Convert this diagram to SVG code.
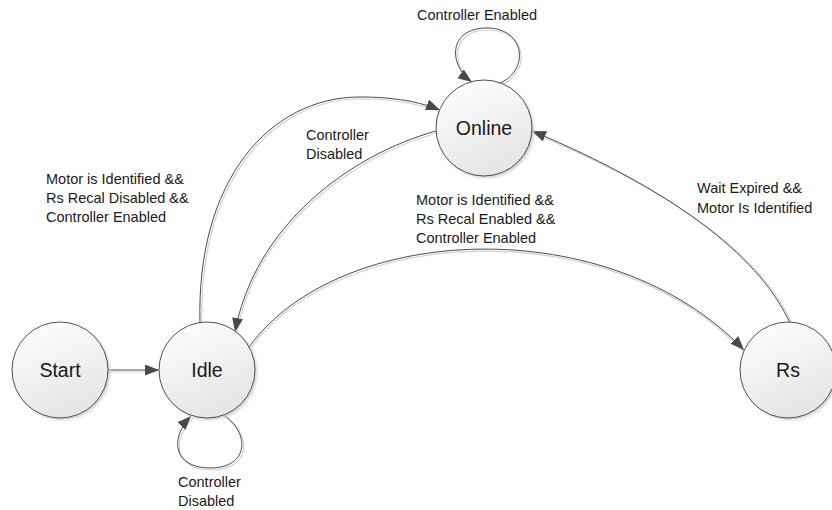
<svg xmlns="http://www.w3.org/2000/svg" width="832" height="510" viewBox="0 0 832 510">
<style>
.node circle.body{fill:url(#g);stroke:#505050;stroke-width:1}
.node circle.sh{fill:#cfcfcf;filter:url(#blur)}
.nl{font-family:"Liberation Sans",Arial,sans-serif;font-size:19.5px;fill:#1a1a1a;text-anchor:middle}
.el{font-family:"Liberation Sans",Arial,sans-serif;font-size:14.5px;fill:#1a1a1a}
.c{fill:none;stroke:#4a4a4a;stroke-width:1}
.s{fill:none;stroke:#d0d0d0;stroke-width:1.2}
</style>
<defs>
<linearGradient id="g" x1="0" y1="0" x2="0.4" y2="1">
<stop offset="0" stop-color="#ffffff"/>
<stop offset="1" stop-color="#e6e6e6"/>
</linearGradient>
<filter id="blur" x="-20%" y="-20%" width="140%" height="140%"><feGaussianBlur stdDeviation="1.5"/></filter>
<marker id="a" markerUnits="userSpaceOnUse" markerWidth="15" markerHeight="11" refX="14" refY="5.5" orient="auto">
<path d="M0,0 L14,5.5 L0,11 z" fill="#4a4a4a"/>
</marker>
</defs>

<g id="connectors">
<g id="e-start-idle">
<path class="s" d="M108,372 L157,372"/>
<path class="c" d="M108,370 L159,370" marker-end="url(#a)"/>
</g>
<g id="e-idle-self">
<path class="s" d="M225,416 C252,434 252,470 211,470 C176,470 170,442 193,418"/>
<path class="c" d="M223,415 C250,432 250,468 210,468 C175,468 168,440 191,416" marker-end="url(#a)"/>
</g>
<g id="e-online-self">
<path class="s" d="M501,85 C532,72 527,30 488,30 C450,30 450,67 474,84"/>
<path class="c" d="M500,83 C530,70 525,28 487,28 C448,28 448,65 472,82" marker-end="url(#a)"/>
</g>
<g id="e-idle-online">
<path class="s" d="M202,323 C198,182 272,99 360,99 C395,99 420,104 440,112"/>
<path class="c" d="M200,323 C196,180 270,97 360,97 C395,97 420,102 440,110" marker-end="url(#a)"/>
</g>
<g id="e-online-idle">
<path class="s" d="M437,133 C351,157 257,227 237,332"/>
<path class="c" d="M436,131 C350,155 255,225 235,332" marker-end="url(#a)"/>
</g>
<g id="e-idle-rs">
<path class="s" d="M250,349 C341,224 611,212 744,352"/>
<path class="c" d="M249,347 C340,222 610,210 744,350" marker-end="url(#a)"/>
</g>
<g id="e-rs-online">
<path class="s" d="M792,323 C764,262 687,197 533,133"/>
<path class="c" d="M790,323 C762,262 685,195 532,131" marker-end="url(#a)"/>
</g>
</g>

<g id="labels">
<text class="el" x="417" y="20">Controller Enabled</text>
<text class="el" x="306" y="140">Controller</text>
<text class="el" x="306" y="159">Disabled</text>
<text class="el" x="46" y="184">Motor is Identified &amp;&amp;</text>
<text class="el" x="46" y="203">Rs Recal Disabled &amp;&amp;</text>
<text class="el" x="46" y="222">Controller Enabled</text>
<text class="el" x="416" y="205">Motor is Identified &amp;&amp;</text>
<text class="el" x="416" y="224">Rs Recal Enabled &amp;&amp;</text>
<text class="el" x="416" y="243">Controller Enabled</text>
<text class="el" x="697" y="193">Wait Expired &amp;&amp;</text>
<text class="el" x="697" y="213">Motor Is Identified</text>
<text class="el" x="178" y="487">Controller</text>
<text class="el" x="178" y="506">Disabled</text>
</g>

<g id="start" class="node">
<circle class="sh" cx="62" cy="372" r="48"/>
<circle class="body" cx="60" cy="370" r="48"/>
<text class="nl" x="60" y="377">Start</text>
</g>
<g id="idle" class="node">
<circle class="sh" cx="209" cy="372" r="48"/>
<circle class="body" cx="207" cy="370" r="48"/>
<text class="nl" x="207" y="377">Idle</text>
</g>
<g id="online" class="node">
<circle class="sh" cx="486" cy="130" r="48"/>
<circle class="body" cx="484" cy="128" r="48"/>
<text class="nl" x="484" y="135">Online</text>
</g>
<g id="rs" class="node">
<circle class="sh" cx="790" cy="372" r="48"/>
<circle class="body" cx="788" cy="370" r="48"/>
<text class="nl" x="788" y="377">Rs</text>
</g>
</svg>
